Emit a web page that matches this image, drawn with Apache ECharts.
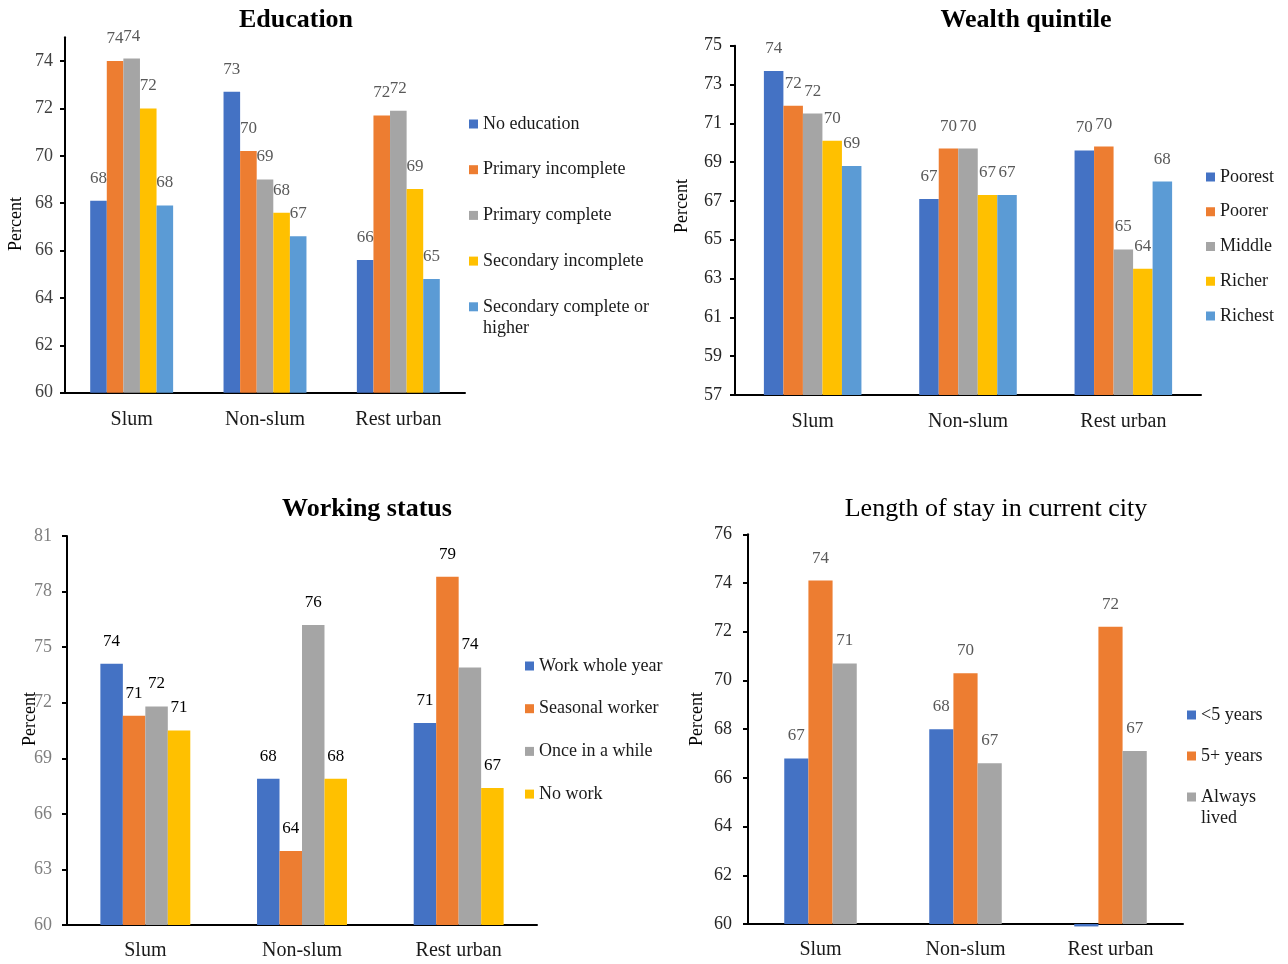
<!DOCTYPE html>
<html>
<head>
<meta charset="utf-8">
<script src="https://cdn.jsdelivr.net/npm/echarts@6/dist/echarts.min.js"></script>
<style>
  html, body { margin: 0; padding: 0; background: #ffffff; }
  #chart { width: 1288px; height: 964px; }
</style>
</head>
<body>
<div id="chart"></div>
<script>
// Shared categories for all four panels
const categories = ['Slum', 'Non-slum', 'Rest urban'];

// Education panel
const educationGroups = ['No education', 'Primary incomplete', 'Primary complete', 'Secondary incomplete', 'Secondary complete or higher'];
const educationValues = [
  [68.1, 72.7, 65.6],
  [74.0, 70.2, 71.7],
  [74.1, 69.0, 71.9],
  [72.0, 67.6, 68.6],
  [67.9, 66.6, 64.8]
];
const educationTicks = [60, 62, 64, 66, 68, 70, 72, 74];

// Wealth quintile panel
const wealthGroups = ['Poorest', 'Poorer', 'Middle', 'Richer', 'Richest'];
const wealthValues = [
  [73.7, 67.1, 69.6],
  [71.9, 69.7, 69.8],
  [71.5, 69.7, 64.5],
  [70.1, 67.3, 63.5],
  [68.8, 67.3, 68.0]
];
const wealthTicks = [57, 59, 61, 63, 65, 67, 69, 71, 73, 75];

// Working status panel
const workGroups = ['Work whole year', 'Seasonal worker', 'Once in a while', 'No work'];
const workValues = [
  [74.1, 67.9, 70.9],
  [71.3, 64.0, 78.8],
  [71.8, 76.2, 73.9],
  [70.5, 67.9, 67.4]
];
const workTicks = [60, 63, 66, 69, 72, 75, 78, 81];

// Length of stay panel
const stayGroups = ['<5 years', '5+ years', 'Always lived'];
const stayValues = [
  [66.8, 68.0, 59.9],
  [74.1, 70.3, 72.2],
  [70.7, 66.6, 67.1]
];
const stayTicks = [60, 62, 64, 66, 68, 70, 72, 74, 76];

// Wrapped legend entries: a blank leading line keeps the first text line level with the swatch
const legendText = {
  'Secondary complete or higher': '\u00a0\nSecondary complete or\nhigher',
  'Always lived': '\u00a0\nAlways\nlived'
};

const palette = ['#4472C4', '#ED7D31', '#A5A5A5', '#FFC000', '#5B9BD5'];
const FONT = "'Liberation Serif', 'Times New Roman', serif";

const panels = [
  {
    title: 'Education', bold: true, titleX: 296, titleY: 7,
    grid: { left: 65, top: 37.3, width: 400, height: 355.4 },
    groups: educationGroups, values: educationValues, ticks: educationTicks, max: 75,
    gap: '37.8%', labelColor: '#595959', tickColor: '#404040', tickMargin: 12, catMargin: 17,
    legend: { left: 469, top: 114, gap: 25.7 }, percent: [16, 224]
  },
  {
    title: 'Wealth quintile', bold: true, titleX: 1026, titleY: 7,
    grid: { left: 735, top: 45.7, width: 466, height: 349.3 },
    groups: wealthGroups, values: wealthValues, ticks: wealthTicks, max: 75,
    gap: '37.2%', labelColor: '#595959', tickColor: '#262626', tickMargin: 13, catMargin: 17,
    legend: { left: 1206, top: 167, gap: 14.75 }, percent: [682, 206]
  },
  {
    title: 'Working status', bold: true, titleX: 367, titleY: 496,
    grid: { left: 67, top: 536, width: 470, height: 389 },
    groups: workGroups, values: workValues, ticks: workTicks, max: 81,
    gap: '42.6%', labelColor: '#000000', tickColor: '#7f7f7f', tickMargin: 15, catMargin: 16,
    legend: { left: 525, top: 656, gap: 22.7 }, percent: [30, 719]
  },
  {
    title: 'Length of stay in current city', bold: false, titleX: 996, titleY: 496,
    grid: { left: 748, top: 534.3, width: 435, height: 389.7 },
    groups: stayGroups, values: stayValues, ticks: stayTicks, max: 76,
    gap: '50%', labelColor: '#595959', tickColor: '#262626', tickMargin: 16, catMargin: 16,
    legend: { left: 1187, top: 705, gap: 21 }, percent: [697, 719]
  }
];

const LEGEND_LINE = 20;   // line height of single-line legend entries
const WRAP_LINE = 21;     // line height inside wrapped legend entries

const grids = [], xAxes = [], yAxes = [], series = [], titles = [], legends = [], graphics = [];

function legendBase(left, top, gap, lineHeight) {
  return {
    orient: 'vertical', left: left, top: top, itemGap: gap,
    itemWidth: 9, itemHeight: 9, icon: 'rect', padding: 0,
    textStyle: { fontFamily: FONT, fontSize: 18, color: '#1a1a1a', lineHeight: lineHeight },
    formatter: name => legendText[name] || name
  };
}

panels.forEach((p, i) => {
  grids.push(Object.assign({ containLabel: false }, p.grid));

  titles.push({
    text: p.title, left: p.titleX, top: p.titleY, textAlign: 'center', padding: 0,
    textStyle: { fontFamily: FONT, fontSize: 26, fontWeight: p.bold ? 'bold' : 'normal', color: '#000' }
  });

  xAxes.push({
    type: 'category', gridIndex: i, data: categories,
    axisLine: { lineStyle: { color: '#000', width: 2 } },
    axisTick: { show: false },
    axisLabel: { fontFamily: FONT, fontSize: 20, color: '#1a1a1a', margin: p.catMargin }
  });

  yAxes.push({
    type: 'value', gridIndex: i, min: p.ticks[0], max: p.max, startValue: p.ticks[0],
    axisLine: { show: true, lineStyle: { color: '#000', width: 2 } },
    axisTick: { show: true, length: 5, lineStyle: { color: '#000', width: 2 }, customValues: p.ticks },
    axisLabel: { fontFamily: FONT, fontSize: 18, color: p.tickColor, margin: p.tickMargin, customValues: p.ticks },
    splitLine: { show: false }
  });

  p.groups.forEach((g, k) => {
    series.push({
      type: 'bar', name: g, xAxisIndex: i, yAxisIndex: i,
      barGap: '0%', barCategoryGap: p.gap, clip: false,
      itemStyle: { color: palette[k] },
      label: {
        show: true, position: 'top', distance: 14,
        fontFamily: FONT, fontSize: 17, color: p.labelColor,
        formatter: d => String(Math.round(d.value))
      },
      data: p.values[k].map(v => v < p.ticks[0] ? { value: v, label: { show: false } } : v)
    });
  });

  // Single-line entries share one vertical legend; each wrapped entry gets its own slot
  const step = LEGEND_LINE + p.legend.gap;
  const plain = p.groups.filter(g => !legendText[g]);
  legends.push(Object.assign(legendBase(p.legend.left, p.legend.top, p.legend.gap, LEGEND_LINE), { data: plain }));
  p.groups.forEach((g, k) => {
    if (!legendText[g]) return;
    const centerY = p.legend.top + k * step + LEGEND_LINE / 2;
    legends.push(Object.assign(legendBase(p.legend.left, centerY - 1.5 * WRAP_LINE, 0, WRAP_LINE), { data: [g] }));
  });

  graphics.push({
    type: 'text', x: p.percent[0], y: p.percent[1], rotation: Math.PI / 2,
    style: { text: 'Percent', fontFamily: FONT, fontSize: 18, fill: '#000', align: 'center', verticalAlign: 'middle' }
  });
});

const chart = echarts.init(document.getElementById('chart'), null, { renderer: 'canvas' });
chart.setOption({
  backgroundColor: '#ffffff',
  animation: false,
  title: titles,
  grid: grids,
  xAxis: xAxes,
  yAxis: yAxes,
  legend: legends,
  graphic: graphics,
  series: series
});
</script>
</body>
</html>
